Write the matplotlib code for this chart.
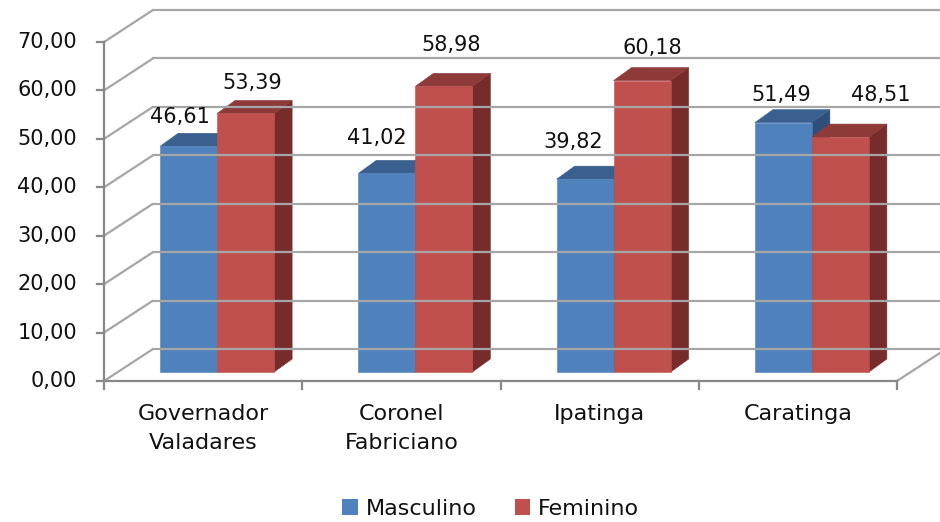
import matplotlib
matplotlib.use('Agg')
import matplotlib.pyplot as plt
from matplotlib.patches import Polygon, Patch
from matplotlib import transforms

cities = ['Governador\nValadares', 'Coronel\nFabriciano', 'Ipatinga', 'Caratinga']
masculino = [46.61, 41.02, 39.82, 51.49]
feminino = [53.39, 58.98, 60.18, 48.51]
series_names = ['Masculino', 'Feminino']
yticks = [0, 10, 20, 30, 40, 50, 60, 70]

# face colours: front, top, side
blue = ('#4F81BD', '#3A6090', '#2E4F7A')
red = ('#C0504D', '#8E3A39', '#772C2B')

plt.rcParams['font.family'] = ['DejaVu Sans']
txt_c = '#111111'

W, H = 940, 522
fig = plt.figure(figsize=(W / 100, H / 100), dpi=100)
x0, x1, y0, y1 = 104, 897, 381, 42
ax = fig.add_axes([x0 / W, 1 - y0 / H, (x1 - x0) / W, (y0 - y1) / H])
ax.set_xlim(-0.5, 3.5)
ax.set_ylim(0, 70)
ax.axis('off')

px_x = (x1 - x0) / 4.0
px_y = (y0 - y1) / 70.0

# depth offsets (pixels) turned into data units
wall = (49 / px_x, 32 / px_y)
front = (14 / px_x, 9 / px_y)
depth = (18 / px_x, 13 / px_y)
bw = 57 / px_x

grid_c = '#A6A6A6'
axis_c = '#888888'
lw = 1.6

# back wall gridlines + left wall diagonals
for v in yticks:
    ax.plot([-0.5, -0.5 + wall[0]], [v, v + wall[1]], color=grid_c, lw=lw,
            clip_on=False, solid_capstyle='butt')
    ax.plot([-0.5 + wall[0], 3.5 + wall[0]], [v + wall[1], v + wall[1]],
            color=grid_c, lw=lw, clip_on=False)
ax.plot([3.5, 3.5 + wall[0]], [0, wall[1]], color=grid_c, lw=lw, clip_on=False)

# front axes
ax.plot([-0.5, -0.5], [0, 70], color=axis_c, lw=lw, clip_on=False)
ax.plot([-0.5, 3.5], [0, 0], color=axis_c, lw=lw, clip_on=False)
for v in yticks:
    ax.plot([-0.5 - 7 / px_x, -0.5], [v, v], color=axis_c, lw=lw, clip_on=False)
    ax.text(-0.5 - 27 / px_x, v, f'{v:.2f}'.replace('.', ','), ha='right',
            va='center', fontsize=15, color=txt_c)
for k in range(5):
    ax.plot([k - 0.5, k - 0.5], [0, -8 / px_y], color=axis_c, lw=lw, clip_on=False)

for i, name in enumerate(cities):
    ax.text(i, -23 / px_y, name, ha='center', va='top', fontsize=16,
            linespacing=1.55, color=txt_c)


def bar3d(left, val, cols):
    l = left + front[0]
    r = l + bw
    b = front[1]
    t = val + front[1]
    dx, dy = depth
    faces = [
        ([(r, b), (r + dx, b + dy), (r + dx, t + dy), (r, t)], cols[2]),
        ([(l, t), (r, t), (r + dx, t + dy), (l + dx, t + dy)], cols[1]),
        ([(l, b), (r, b), (r, t), (l, t)], cols[0]),
    ]
    for pts, c in faces:
        ax.add_patch(Polygon(pts, closed=True, facecolor=c, edgecolor=c,
                             lw=0.4, clip_on=False))


# label shifts in pixels (dx, dy above the back edge of the top face)
label_shift = [[(-9, 16), (7, 17)], [(-10, 22), (7, 28)],
               [(-12, 24), (10, 20)], [(-2, 15), (40, 29)]]

for i in range(len(cities)):
    for j, (vals, cols) in enumerate([(masculino, blue), (feminino, red)]):
        left = i - bw + j * bw
        bar3d(left, vals[i], cols)
        dx, dy = label_shift[i][j]
        tr = transforms.offset_copy(ax.transData, fig=fig, x=dx, y=dy, units='dots')
        ax.text(left + bw / 2 + front[0], vals[i] + front[1] + depth[1],
                f'{vals[i]:.2f}'.replace('.', ','), transform=tr,
                ha='center', va='center', fontsize=15, color=txt_c)

handles = [Patch(facecolor=blue[0]), Patch(facecolor=red[0])]
fig.legend(handles, series_names, loc='center', bbox_to_anchor=(0.522, 1 - 509 / H),
           ncol=2, frameon=False, fontsize=16, handlelength=0.7, handleheight=0.7,
           handletextpad=0.35, columnspacing=1.7, labelcolor=txt_c)

fig.savefig('out.png', dpi=100, facecolor='white')
